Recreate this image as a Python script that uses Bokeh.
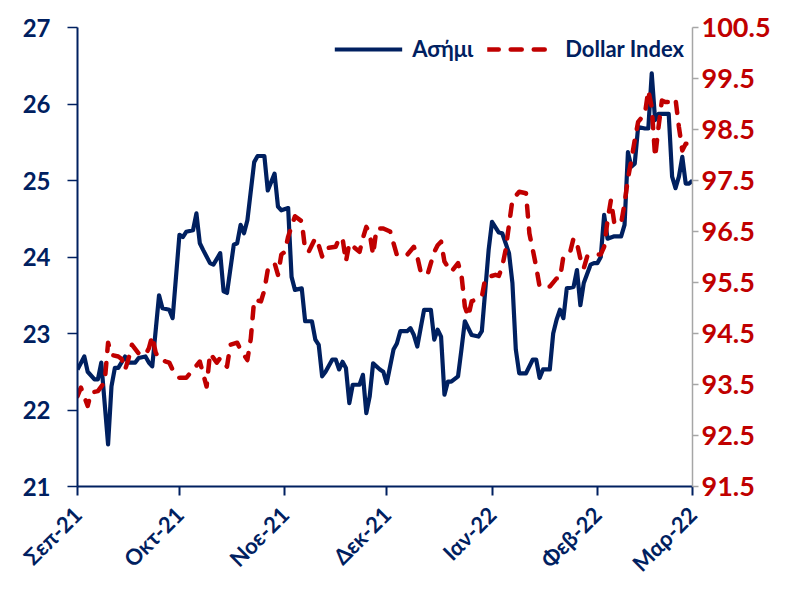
import pandas as pd
from math import pi
from bokeh.plotting import figure
from bokeh.models import (LinearAxis, Range1d, FixedTicker, Legend, LegendItem)
from bokeh.embed import file_html
from bokeh.resources import INLINE

# ---------------- data ----------------
silver_dates = [
    "2021-09-01", "2021-09-03", "2021-09-04", "2021-09-06", "2021-09-07", "2021-09-08", "2021-09-10",
    "2021-09-11", "2021-09-12", "2021-09-13", "2021-09-15", "2021-09-16", "2021-09-18", "2021-09-19",
    "2021-09-21", "2021-09-22", "2021-09-23", "2021-09-25", "2021-09-26", "2021-09-28", "2021-09-29",
    "2021-10-01", "2021-10-02", "2021-10-03", "2021-10-04", "2021-10-05", "2021-10-06", "2021-10-07",
    "2021-10-08", "2021-10-10", "2021-10-11", "2021-10-13", "2021-10-14", "2021-10-15", "2021-10-17",
    "2021-10-18", "2021-10-19", "2021-10-20", "2021-10-21", "2021-10-23", "2021-10-24", "2021-10-26",
    "2021-10-27", "2021-10-29", "2021-10-30", "2021-10-31", "2021-11-02", "2021-11-03", "2021-11-04",
    "2021-11-06", "2021-11-07", "2021-11-09", "2021-11-10", "2021-11-11", "2021-11-12", "2021-11-13",
    "2021-11-15", "2021-11-16", "2021-11-17", "2021-11-18", "2021-11-19", "2021-11-20", "2021-11-21",
    "2021-11-23", "2021-11-24", "2021-11-25", "2021-11-26", "2021-11-27", "2021-11-29", "2021-11-30",
    "2021-12-01", "2021-12-03", "2021-12-04", "2021-12-05", "2021-12-07", "2021-12-08", "2021-12-09",
    "2021-12-10", "2021-12-11", "2021-12-12", "2021-12-14", "2021-12-15", "2021-12-16", "2021-12-17",
    "2021-12-18", "2021-12-19", "2021-12-20", "2021-12-22", "2021-12-23", "2021-12-24", "2021-12-26",
    "2021-12-28", "2021-12-29", "2021-12-31", "2022-01-01", "2022-01-03", "2022-01-04", "2022-01-06",
    "2022-01-07", "2022-01-08", "2022-01-09", "2022-01-11", "2022-01-13", "2022-01-14", "2022-01-15",
    "2022-01-16", "2022-01-18", "2022-01-19", "2022-01-20", "2022-01-21", "2022-01-22", "2022-01-23",
    "2022-01-25", "2022-01-26", "2022-01-27", "2022-01-28", "2022-01-30", "2022-01-31", "2022-02-01",
    "2022-02-02", "2022-02-03", "2022-02-04", "2022-02-06", "2022-02-08", "2022-02-09", "2022-02-10",
    "2022-02-11", "2022-02-12", "2022-02-13", "2022-02-15", "2022-02-16", "2022-02-17", "2022-02-18",
    "2022-02-19", "2022-02-20", "2022-02-22", "2022-02-23", "2022-02-24", "2022-02-25", "2022-02-26",
    "2022-02-27", "2022-02-28", "2022-03-01",
]
silver_values = [
    22.53, 22.70, 22.50, 22.40, 22.40, 22.62, 21.55,
    22.31, 22.55, 22.55, 22.70, 22.62, 22.62, 22.68,
    22.70, 22.62, 22.57, 23.50, 23.33, 23.31, 23.20,
    24.29, 24.26, 24.33, 24.34, 24.35, 24.57, 24.18,
    24.09, 23.92, 23.90, 24.05, 23.55, 23.53, 24.16,
    24.18, 24.42, 24.31, 24.48, 25.24, 25.32, 25.32,
    24.87, 25.09, 24.66, 24.61, 24.64, 23.74, 23.57,
    23.59, 23.16, 23.16, 22.92, 22.85, 22.44, 22.50,
    22.66, 22.66, 22.53, 22.63, 22.55, 22.09, 22.33,
    22.33, 22.46, 21.96, 22.18, 22.61, 22.53, 22.50,
    22.35, 22.79, 22.87, 23.03, 23.03, 23.07, 22.98,
    22.83, 23.07, 23.31, 23.31, 22.92, 23.05, 22.96,
    22.20, 22.37, 22.37, 22.44, 22.79, 23.16, 22.98,
    22.96, 23.03, 24.09, 24.46, 24.32, 24.31, 24.05,
    23.66, 22.79, 22.48, 22.48, 22.66, 22.66, 22.42,
    22.53, 22.53, 23.00, 23.18, 23.31, 23.20, 23.59,
    23.61, 23.83, 23.37, 23.66, 23.90, 23.92, 23.92,
    24.00, 24.55, 24.24, 24.27, 24.27, 24.42, 25.37,
    25.18, 25.22, 25.70, 25.68, 25.68, 26.40, 25.79,
    25.87, 25.87, 25.87, 25.05, 24.90, 25.05, 25.31,
    24.96, 24.96, 25.00,
]

dxy_dates = [
    "2021-09-01", "2021-09-02", "2021-09-04", "2021-09-05", "2021-09-07", "2021-09-09", "2021-09-10",
    "2021-09-11", "2021-09-13", "2021-09-14", "2021-09-15", "2021-09-16", "2021-09-17", "2021-09-19",
    "2021-09-21", "2021-09-22", "2021-09-23", "2021-09-24", "2021-09-25", "2021-09-27", "2021-09-28",
    "2021-09-29", "2021-10-01", "2021-10-03", "2021-10-05", "2021-10-07", "2021-10-09", "2021-10-10",
    "2021-10-12", "2021-10-13", "2021-10-15", "2021-10-16", "2021-10-18", "2021-10-19", "2021-10-21",
    "2021-10-22", "2021-10-23", "2021-10-25", "2021-10-26", "2021-10-27", "2021-10-29", "2021-10-30",
    "2021-10-31", "2021-11-01", "2021-11-02", "2021-11-04", "2021-11-06", "2021-11-07", "2021-11-08",
    "2021-11-10", "2021-11-11", "2021-11-12", "2021-11-13", "2021-11-16", "2021-11-17", "2021-11-18",
    "2021-11-19", "2021-11-20", "2021-11-23", "2021-11-24", "2021-11-25", "2021-11-26", "2021-11-27",
    "2021-11-28", "2021-11-30", "2021-12-02", "2021-12-03", "2021-12-04", "2021-12-07", "2021-12-09",
    "2021-12-10", "2021-12-11", "2021-12-13", "2021-12-14", "2021-12-15", "2021-12-16", "2021-12-17",
    "2021-12-18", "2021-12-20", "2021-12-22", "2021-12-23", "2021-12-24", "2021-12-25", "2021-12-26",
    "2021-12-28", "2021-12-29", "2021-12-30", "2021-12-31", "2022-01-02", "2022-01-03", "2022-01-04",
    "2022-01-05", "2022-01-07", "2022-01-09", "2022-01-11", "2022-01-12", "2022-01-13", "2022-01-14",
    "2022-01-15", "2022-01-18", "2022-01-20", "2022-01-21", "2022-01-22", "2022-01-24", "2022-01-25",
    "2022-01-26", "2022-01-27", "2022-01-28", "2022-01-29", "2022-01-30", "2022-02-02", "2022-02-03",
    "2022-02-04", "2022-02-05", "2022-02-06", "2022-02-08", "2022-02-09", "2022-02-10", "2022-02-11",
    "2022-02-12", "2022-02-13", "2022-02-15", "2022-02-16", "2022-02-17", "2022-02-18", "2022-02-19",
    "2022-02-20", "2022-02-21", "2022-02-23", "2022-02-24", "2022-02-25", "2022-02-26", "2022-02-27",
    "2022-02-28",
]
dxy_values = [
    93.27, 93.44, 93.08, 93.34, 93.37, 93.55, 94.32,
    94.08, 94.05, 94.00, 93.79, 94.00, 94.28, 94.11,
    94.08, 94.21, 94.45, 94.13, 94.00, 93.95, 93.93,
    93.79, 93.63, 93.63, 93.79, 93.95, 93.46, 94.11,
    93.93, 94.02, 93.85, 94.28, 94.32, 94.18, 93.98,
    94.40, 95.16, 95.13, 95.35, 95.75, 95.88, 95.65,
    96.05, 96.10, 96.40, 96.80, 96.70, 96.14, 96.10,
    96.37, 96.23, 96.01, 96.17, 96.20, 96.37, 96.37,
    95.91, 96.27, 96.10, 96.37, 96.59, 96.46, 96.04,
    96.56, 96.56, 96.50, 96.27, 96.04, 96.04, 96.20,
    96.01, 95.71, 95.65, 95.88, 96.10, 96.23, 96.30,
    95.91, 95.71, 95.88, 95.65, 95.03, 94.83, 95.13,
    95.19, 95.22, 95.58, 95.61, 95.65, 95.63, 95.81,
    96.14, 97.12, 97.28, 97.25, 96.46, 96.14, 95.81,
    95.42, 95.42, 95.58, 95.58, 96.01, 96.10, 96.37,
    96.27, 95.97, 95.78, 96.01, 96.04, 96.05, 96.20,
    96.72, 97.12, 96.66, 96.66, 97.05, 97.54, 97.90,
    98.29, 98.65, 98.81, 99.27, 98.94, 97.96, 98.55,
    99.07, 99.04, 99.04, 99.10, 98.55, 98.09, 98.22,
    98.22,
]

month_ticks = ["2021-09-01", "2021-10-01", "2021-11-01", "2021-12-01",
               "2022-01-01", "2022-02-01", "2022-03-01"]
month_labels = ["Σεπ-21", "Οκτ-21", "Νοε-21", "Δεκ-21", "Ιαν-22", "Φεβ-22", "Μαρ-22"]

left_ticks = [21, 22, 23, 24, 25, 26, 27]
right_ticks = [91.5, 92.5, 93.5, 94.5, 95.5, 96.5, 97.5, 98.5, 99.5, 100.5]

series_names = ["Ασήμι", "Dollar Index"]

# ---------------- styling ----------------
NAVY = "#002060"
RED = "#C00000"
GRAY = "#A6A6A6"
FONT = "Lato"

s_x = pd.to_datetime(silver_dates)
d_x = pd.to_datetime(dxy_dates)
tick_dt = pd.to_datetime(month_ticks)
tick_ms = [int(t.value // 10**6) for t in tick_dt]

p = figure(width=792, height=589, x_axis_type="datetime",
           x_range=Range1d(tick_dt[0], tick_dt[-1]),
           y_range=Range1d(left_ticks[0], left_ticks[-1]),
           output_backend="svg", toolbar_location=None,
           min_border_left=77, min_border_right=100,
           min_border_top=27, min_border_bottom=103)
p.outline_line_color = None
p.xgrid.visible = False
p.ygrid.visible = False
p.extra_y_ranges = {"dxy": Range1d(right_ticks[0], right_ticks[-1])}

r_s = p.line(s_x, silver_values, line_color=NAVY, line_width=4.2, line_join="round")
r_d = p.line(d_x, dxy_values, line_color=RED, line_width=4.5, line_dash="11 12",
             line_cap="round", line_join="round", y_range_name="dxy")

# x axis
xa = p.xaxis[0]
xa.ticker = FixedTicker(ticks=tick_ms)
xa.major_label_overrides = {ms: lab for ms, lab in zip(tick_ms, month_labels)}
xa.major_label_orientation = pi / 4
xa.axis_line_color = NAVY
xa.axis_line_width = 2
xa.major_tick_line_color = NAVY
xa.major_tick_line_width = 2
xa.major_tick_out = 9
xa.major_tick_in = 0
xa.minor_tick_line_color = None
xa.major_label_text_color = NAVY
xa.major_label_text_font = FONT
xa.major_label_text_font_style = "bold"
xa.major_label_text_font_size = "22px"
xa.major_label_standoff = 15

# left axis
ya = p.yaxis[0]
ya.ticker = FixedTicker(ticks=left_ticks)
ya.axis_line_color = NAVY
ya.axis_line_width = 2
ya.major_tick_line_color = NAVY
ya.major_tick_line_width = 1.5
ya.major_tick_out = 10
ya.major_tick_in = 0
ya.minor_tick_line_color = None
ya.major_label_text_color = NAVY
ya.major_label_text_font = FONT
ya.major_label_text_font_style = "bold"
ya.major_label_text_font_size = "24px"
ya.major_label_standoff = 17

# right axis
ra = LinearAxis(y_range_name="dxy", ticker=FixedTicker(ticks=right_ticks))
ra.axis_line_color = GRAY
ra.axis_line_width = 1.5
ra.major_tick_line_color = GRAY
ra.major_tick_line_width = 1.5
ra.major_tick_out = 6
ra.major_tick_in = 0
ra.minor_tick_line_color = None
ra.major_label_text_color = RED
ra.major_label_text_font = FONT
ra.major_label_text_font_style = "bold"
ra.major_label_text_font_size = "27px"
ra.major_label_standoff = 3
ra.major_label_overrides = {v: f"{v:.1f}" for v in right_ticks}
p.add_layout(ra, "right")

legend = Legend(items=[LegendItem(label=series_names[0], renderers=[r_s]),
                       LegendItem(label=series_names[1], renderers=[r_d])],
                orientation="horizontal", location="top_right")
legend.background_fill_alpha = 0
legend.border_line_color = None
legend.label_text_color = NAVY
legend.label_text_font = FONT
legend.label_text_font_style = "bold"
legend.label_text_font_size = "22px"
legend.glyph_width = 68
legend.glyph_height = 22
legend.label_standoff = 10
legend.spacing = 14
legend.padding = 0
legend.margin = 8
p.add_layout(legend, "center")

open("out.html", "w").write(file_html(p, INLINE))
